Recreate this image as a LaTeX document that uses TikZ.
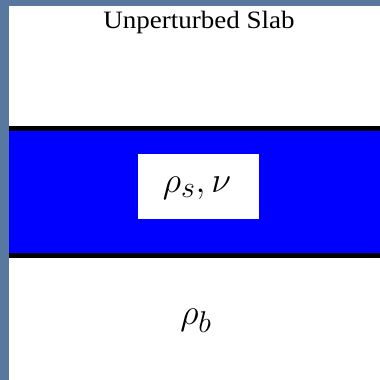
\documentclass[tikz,border=0pt]{standalone}
\usepackage{fontspec}
\setmainfont{Liberation Serif}
\definecolor{bgblue}{RGB}{88,120,160}
\definecolor{slabblue}{RGB}{0,0,255}
\begin{document}
\begin{tikzpicture}[x=1pt,y=-1pt,
  edge/.style={line width=5pt,black},
  lbl/.style={inner sep=0pt,anchor=center}]
\useasboundingbox (0,0) rectangle (380,380);
\fill[bgblue] (0,0) rectangle (380,380);
\fill[white] (9,6) rectangle (380,380);
\fill[slabblue] (9,128.5) rectangle (380,255.5);
\draw[edge] (9,128.5) -- (380,128.5);
\draw[edge] (9,255.5) -- (380,255.5);
\node[lbl, xscale=1.08] (title) at (199,22) {\fontsize{25}{27}\selectfont Unperturbed Slab};
\node[fill=white, minimum width=121pt, minimum height=65pt, inner sep=0pt] (box) at (198.5,186.5) {};
\node[lbl, scale=1.45] (rhos) at (197,188) {\fontsize{30}{34}\selectfont $\rho_s, \nu$};
\node[lbl, scale=1.45] (rhob) at (196,321) {\fontsize{30}{34}\selectfont $\rho_b$};
\end{tikzpicture}
\end{document}
